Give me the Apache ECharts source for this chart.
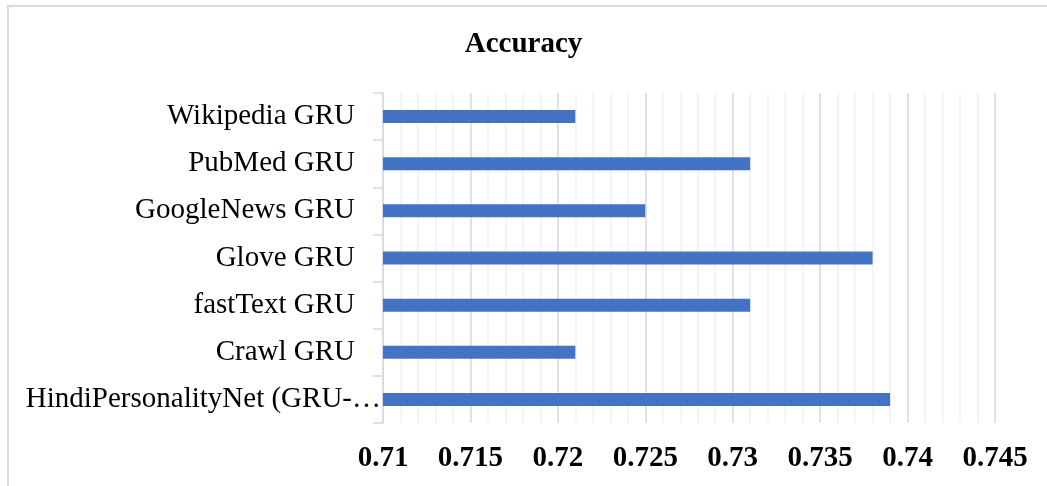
<!DOCTYPE html>
<html>
<head>
<meta charset="utf-8">
<script src="https://cdn.jsdelivr.net/npm/echarts@6/dist/echarts.min.js"></script>
<style>html,body{margin:0;padding:0;background:#fff}#c{width:1047px;height:486px}</style>
</head>
<body>
<div id="c"></div>
<script>
// Categories listed bottom-to-top
const categories = ['HindiPersonalityNet (GRU-…', 'Crawl GRU', 'fastText GRU', 'Glove GRU', 'GoogleNews GRU', 'PubMed GRU', 'Wikipedia GRU'];
const accuracy = [0.739, 0.721, 0.731, 0.738, 0.725, 0.731, 0.721];
const xMin = 0.71, xMax = 0.745, xStep = 0.005;

const chart = echarts.init(document.getElementById('c'));
chart.setOption({
  animation: false,
  graphic: [{
    type: 'rect', shape: {x: 8, y: 6, width: 1100, height: 600},
    style: {fill: 'none', stroke: '#d9d9d9', lineWidth: 2}, z: -10
  }],
  title: {
    text: 'Accuracy', left: 'center', top: 25,
    textStyle: {fontFamily: 'Liberation Serif', fontWeight: 'bold', fontSize: 29, color: '#000'}
  },
  grid: {left: 383, right: 52, top: 93, bottom: 63, containLabel: false},
  xAxis: {
    type: 'value', min: xMin, max: xMax, interval: xStep,
    axisLine: {show: false}, axisTick: {show: false},
    splitLine: {show: true, lineStyle: {color: '#d9d9d9', width: 1.5}},
    minorTick: {show: false, splitNumber: 5},
    minorSplitLine: {show: true, lineStyle: {color: '#f2f2f2', width: 1.5}},
    axisLabel: {
      margin: 21, fontFamily: 'Liberation Serif', fontWeight: 'bold', fontSize: 29, color: '#000',
      formatter: v => String(Number(v.toFixed(3)))
    }
  },
  yAxis: {
    type: 'category', data: categories,
    axisLine: {show: true, lineStyle: {color: '#d9d9d9', width: 1.5}},
    axisTick: {show: true, length: 10, lineStyle: {color: '#d9d9d9', width: 1.5}},
    axisLabel: {
      margin: 0, fontFamily: 'Liberation Serif', fontSize: 29, color: '#000',
      formatter: (v, i) => i === 0 ? '{b|' + v + '}' : '{a|' + v + '}',
      rich: {
        a: {fontFamily: 'Liberation Serif', fontSize: 29, color: '#000', padding: [0, 28, 0, 0]},
        b: {fontFamily: 'Liberation Serif', fontSize: 29, color: '#000', padding: [0, 2, 0, 0]}
      }
    }
  },
  series: [{
    type: 'bar', data: accuracy, barWidth: 13,
    itemStyle: {color: '#4472C4'}
  }]
});
</script>
</body>
</html>
